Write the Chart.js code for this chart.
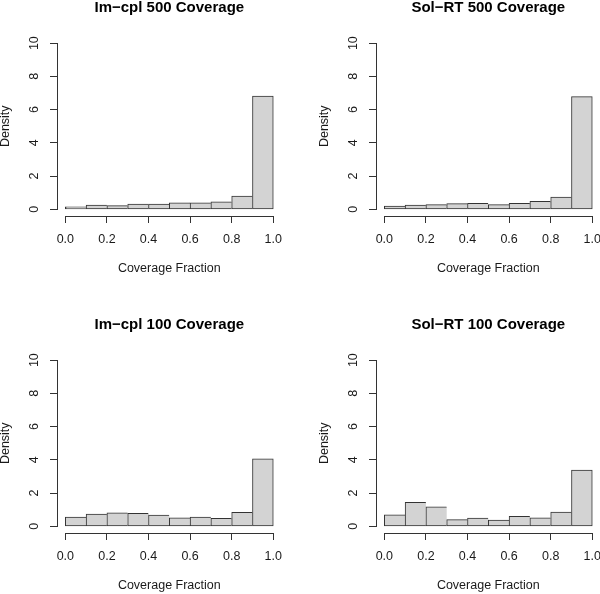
<!DOCTYPE html>
<html>
<head>
<meta charset="utf-8">
<script src="https://cdn.jsdelivr.net/npm/chart.js@4"></script>
<style>
  html, body { margin: 0; padding: 0; background: #fff; }
  body { width: 600px; height: 594px; overflow: hidden; position: relative; }
  canvas { position: absolute; }
</style>
</head>
<body>
<canvas id="c0" width="318" height="308" style="left:-19px; top:-22px"></canvas>
<canvas id="c1" width="318" height="308" style="left:300px; top:-22px"></canvas>
<canvas id="c2" width="318" height="308" style="left:-19px; top:295px"></canvas>
<canvas id="c3" width="318" height="308" style="left:300px; top:295px"></canvas>
<script>
// histogram bins (mid points), density per bin
const binMids = [0.05, 0.15, 0.25, 0.35, 0.45, 0.55, 0.65, 0.75, 0.85, 0.95];
const imcpl500 = [0.15, 0.25, 0.22, 0.31, 0.31, 0.39, 0.39, 0.46, 0.80, 6.82];
const solrt500 = [0.20, 0.26, 0.28, 0.34, 0.36, 0.28, 0.36, 0.48, 0.74, 6.78];
const imcpl100 = [0.56, 0.74, 0.82, 0.78, 0.68, 0.52, 0.56, 0.48, 0.84, 4.06];
const solrt100 = [0.70, 1.44, 1.18, 0.40, 0.50, 0.38, 0.60, 0.52, 0.86, 3.38];
const xTicks = [0, 0.2, 0.4, 0.6, 0.8, 1.0];
const yTicks = [0, 2, 4, 6, 8, 10];
const titles = ['Im\u2212cpl 500 Coverage', 'Sol\u2212RT 500 Coverage', 'Im\u2212cpl 100 Coverage', 'Sol\u2212RT 100 Coverage'];

const FONT = "'Liberation Sans', Arial, Helvetica, sans-serif";

// R style axis lines: only from first to last tick
var axisLines = {
    id: 'axisLines',
    afterDraw(chart) {
        let c = chart.ctx, a = chart.chartArea;
        let sx = chart.scales.x, sy = chart.scales.y;
        let by = Math.round(a.bottom - 0.5) + 0.5;
        let lx = Math.round(a.left - 0.5) + 0.5;
        c.save();
        c.strokeStyle = '#333';
        c.lineWidth = 1;
        c.lineCap = 'square';
        c.beginPath();
        c.moveTo(Math.round(sx.getPixelForValue(xTicks[0]) - 0.5) + 0.5, by);
        c.lineTo(Math.round(sx.getPixelForValue(xTicks[xTicks.length - 1]) - 0.5) + 0.5, by);
        c.moveTo(lx, Math.round(sy.getPixelForValue(yTicks[0]) - 0.5) + 0.5);
        c.lineTo(lx, Math.round(sy.getPixelForValue(yTicks[yTicks.length - 1]) - 0.5) + 0.5);
        c.stroke();
        c.restore();
    }
};

function makeChart(id, title, values) {
    var ctx = document.getElementById(id);
    return new Chart(ctx, {
        type: 'bar',
        data: {
            datasets: [{
                data: values.map((v, i) => ({x: binMids[i], y: v})),
                backgroundColor: '#d3d3d3',
                borderColor: '#333',
                borderWidth: (c) => c.dataIndex === values.length - 1 ? 1 : {top: 1, left: 1, bottom: 1, right: 0},
                borderSkipped: false,
                categoryPercentage: 1,
                barPercentage: 1
            }]
        },
        options: {
            responsive: false,
            animation: false,
            layout: {padding: {top: 20.7, right: 17.4, bottom: 0, left: 0}},
            plugins: {
                legend: {display: false},
                tooltip: {enabled: false},
                title: {
                    display: true,
                    fullSize: false,
                    text: title,
                    color: '#000',
                    font: {family: FONT, size: 15, weight: 'bold', lineHeight: 1.2},
                    padding: {top: 0, bottom: 19.8}
                }
            },
            scales: {
                x: {
                    type: 'linear',
                    min: -0.04,
                    max: 1.04,
                    offset: false,
                    afterBuildTicks: (s) => { s.ticks = xTicks.map(v => ({value: v})); },
                    afterFit: (s) => { s.height = 70; },
                    grid: {drawOnChartArea: false, drawTicks: true, tickLength: 7, color: '#333', offset: false},
                    border: {display: false},
                    ticks: {
                        padding: 9,
                        color: '#1a1a1a',
                        autoSkip: false,
                        maxRotation: 0,
                        font: {family: FONT, size: 12.5},
                        callback: (v) => v.toFixed(1)
                    },
                    title: {
                        display: true,
                        text: 'Coverage Fraction',
                        color: '#1a1a1a',
                        font: {family: FONT, size: 12.5, lineHeight: 1.2},
                        padding: {top: 0, bottom: 10.3}
                    }
                },
                y: {
                    min: -0.4,
                    max: 10.4,
                    afterBuildTicks: (s) => { s.ticks = yTicks.map(v => ({value: v})); },
                    afterFit: (s) => { s.width = 76; },
                    grid: {drawOnChartArea: false, drawTicks: true, tickLength: 7, color: '#333'},
                    border: {display: false},
                    ticks: {
                        padding: 9,
                        color: '#1a1a1a',
                        autoSkip: false,
                        minRotation: 90,
                        maxRotation: 90,
                        crossAlign: 'center',
                        font: {family: FONT, size: 12.5},
                        callback: (v) => String(v)
                    },
                    title: {
                        display: true,
                        text: 'Density',
                        color: '#1a1a1a',
                        font: {family: FONT, size: 12.5, lineHeight: 1.2},
                        padding: {top: 16.7, bottom: 0}
                    }
                }
            }
        },
        plugins: [axisLines]
    });
}

makeChart('c0', titles[0], imcpl500);
makeChart('c1', titles[1], solrt500);
makeChart('c2', titles[2], imcpl100);
makeChart('c3', titles[3], solrt100);
</script>
</body>
</html>
